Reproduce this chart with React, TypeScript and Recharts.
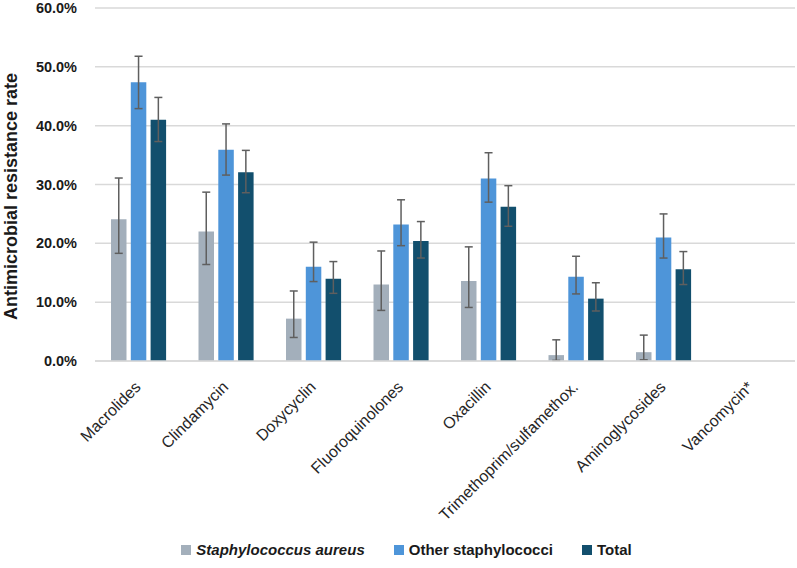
import React from "react";
import { BarChart, Bar, XAxis, YAxis, CartesianGrid, ErrorBar, Label } from "recharts";

const categories = [
  "Macrolides",
  "Clindamycin",
  "Doxycyclin",
  "Fluoroquinolones",
  "Oxacillin",
  "Trimethoprim/sulfamethox.",
  "Aminoglycosides",
  "Vancomycin*",
];

const seriesNames = ["Staphylococcus aureus", "Other staphylococci", "Total"];
const seriesColors = ["#A3AFBB", "#4E95D9", "#124F6D"];

const aureus = [24.1, 22.0, 7.2, 13.0, 13.6, 1.0, 1.5, 0];
const aureusLow = [18.3, 16.4, 4.0, 8.6, 9.1, 0.1, 0.2, null];
const aureusHigh = [31.1, 28.7, 11.9, 18.7, 19.4, 3.6, 4.4, null];

const other = [47.4, 35.9, 16.0, 23.2, 31.0, 14.3, 21.0, 0];
const otherLow = [42.9, 31.6, 13.5, 19.6, 27.0, 11.4, 17.5, null];
const otherHigh = [51.8, 40.3, 20.2, 27.4, 35.4, 17.8, 25.0, null];

const total = [41.0, 32.1, 14.0, 20.4, 26.2, 10.6, 15.6, 0];
const totalLow = [37.3, 28.6, 11.5, 17.5, 22.9, 8.5, 13.0, null];
const totalHigh = [44.8, 35.8, 16.9, 23.7, 29.8, 13.3, 18.6, null];

const yTicks = [0, 10, 20, 30, 40, 50, 60];
const yLabel = "Antimicrobial resistance rate";

const err = (v: number, lo: number | null, hi: number | null) =>
  lo == null || hi == null ? null : [v - lo, hi - v];

const data = categories.map((name, i) => ({
  name,
  aureus: aureus[i],
  aureusErr: err(aureus[i], aureusLow[i], aureusHigh[i]),
  other: other[i],
  otherErr: err(other[i], otherLow[i], otherHigh[i]),
  total: total[i],
  totalErr: err(total[i], totalLow[i], totalHigh[i]),
}));

const FONT = '"Liberation Sans", Arial, sans-serif';

const XTick = (props: any) => {
  const { x, y, payload } = props;
  const ax = x + 3;
  const ay = y + 27;
  return (
    <text
      x={ax}
      y={ay}
      transform={`rotate(-45, ${ax}, ${ay})`}
      textAnchor="end"
      fontFamily={FONT}
      fontSize={16}
      fill="#262626"
    >
      {payload.value}
    </text>
  );
};

const YLabelContent = (props: any) => {
  const vb = props.viewBox;
  const lx = vb.x + 17;
  const ly = vb.y + vb.height / 2 + 12;
  return (
    <text
      x={lx}
      y={ly}
      transform={`rotate(-90, ${lx}, ${ly})`}
      textAnchor="middle"
      fontFamily={FONT}
      fontSize={18}
      fontWeight="bold"
      fill="#1a1a1a"
    >
      {yLabel}
    </text>
  );
};

const keys = ["aureus", "other", "total"];

export default function App() {
  return (
    <div style={{ position: "absolute", left: 0, top: 0, width: 797, height: 568, background: "#fff" }}>
      <BarChart
        width={797}
        height={568}
        data={data}
        margin={{ top: 8, right: 2, left: 0, bottom: 0 }}
        barSize={15.5}
        barGap={4.3}
      >
        <CartesianGrid vertical={false} stroke="#d9d9d9" strokeWidth={1.5} />
        <XAxis
          dataKey="name"
          interval={0}
          height={207}
          tickLine={false}
          tickSize={0}
          tickMargin={0}
          axisLine={{ stroke: "#d9d9d9", strokeWidth: 1.5 }}
          tick={<XTick />}
        />
        <YAxis
          width={95}
          domain={[0, 60]}
          ticks={yTicks}
          interval={0}
          axisLine={false}
          tickLine={false}
          tickSize={6}
          tickMargin={12}
          tickFormatter={(v: number) => `${v.toFixed(1)}%`}
          tick={{ fontFamily: FONT, fontSize: 14.5, fontWeight: "bold", fill: "#1a1a1a" }}
        >
          <Label content={<YLabelContent />} />
        </YAxis>
        {keys.map((k, i) => (
          <Bar key={k} dataKey={k} name={seriesNames[i]} fill={seriesColors[i]} isAnimationActive={false}>
            <ErrorBar dataKey={`${k}Err`} width={4} stroke="#5f5f5f" strokeWidth={1.5} direction="y" />
          </Bar>
        ))}
      </BarChart>
      <div
        style={{
          position: "absolute",
          top: 541,
          left: 8,
          width: 797,
          display: "flex",
          justifyContent: "center",
          alignItems: "center",
          fontFamily: FONT,
          fontSize: 15,
          fontWeight: "bold",
          color: "#1a1a1a",
          lineHeight: "18px",
        }}
      >
        {seriesNames.map((n, i) => (
          <div key={n} style={{ display: "flex", alignItems: "center", marginLeft: i === 0 ? 0 : 29 }}>
            <span style={{ width: 10, height: 10, background: seriesColors[i], marginRight: 5, display: "inline-block" }} />
            <span style={{ fontStyle: i === 0 ? "italic" : "normal" }}>{n}</span>
          </div>
        ))}
      </div>
    </div>
  );
}
